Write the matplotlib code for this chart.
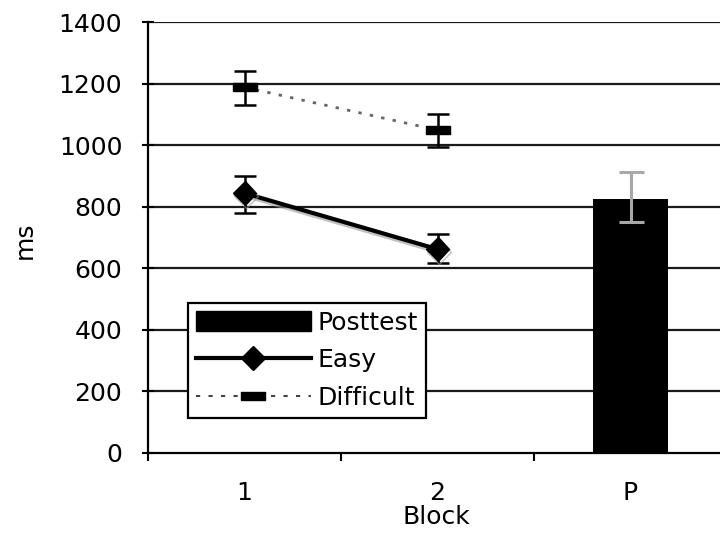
import matplotlib
matplotlib.use("Agg")
import matplotlib.pyplot as plt
import matplotlib.patheffects as pe
from matplotlib.lines import Line2D
from matplotlib.patches import Patch
import numpy as np

categories = ["1", "2", "P"]
easy = [844, 662]
easy_err_lo = [66, 45]
easy_err_hi = [56, 49]
difficult = [1188, 1049]
difficult_err_lo = [58, 54]
difficult_err_hi = [52, 51]
posttest = [825]
posttest_err_lo = [75]
posttest_err_hi = [87]
yticks = [0, 200, 400, 600, 800, 1000, 1200, 1400]

plt.rcParams['font.family'] = ['DejaVu Sans']
FS = 18
fig = plt.figure(figsize=(7.2, 5.37), dpi=100)
ax = fig.add_axes([148/720, 1-453/537, 579/720, (453-22)/537])

x = np.arange(len(categories))

# grid lines
for yv in yticks[1:]:
    ax.axhline(yv, color='#1a1a1a', lw=1.6, zorder=1)

# bar
ax.bar(x[2:], posttest, width=0.39, color='black', zorder=2, label='Posttest')
ax.errorbar(x[2:], posttest, yerr=[posttest_err_lo, posttest_err_hi], fmt='none',
            ecolor='#a8a8a8', elinewidth=2.2, capsize=9, capthick=2.2, zorder=3)

# Easy
ax.errorbar(x[:2], easy, yerr=[easy_err_lo, easy_err_hi], fmt='none', ecolor='black',
            elinewidth=1.8, capsize=8, capthick=1.8, zorder=4)
ax.plot(x[:2], easy, color='black', lw=3, marker='D', markersize=12, zorder=5,
        path_effects=[pe.SimpleLineShadow(offset=(1, -2), shadow_color='#999999', alpha=0.6), pe.Normal()])

# Difficult
rect = [(-1, -0.38), (1, -0.38), (1, 0.38), (-1, 0.38), (-1, -0.38)]
ax.errorbar(x[:2], difficult, yerr=[difficult_err_lo, difficult_err_hi], fmt='none', ecolor='black',
            elinewidth=1.8, capsize=8, capthick=1.8, zorder=4)
ax.plot(x[:2], difficult, color='#666666', lw=2, linestyle=(0, (1.2, 3)), zorder=5)
ax.plot(x[:2], difficult, linestyle='none', marker=rect, markersize=17, color='black', zorder=6)

# legend proxies
h_post = Patch(facecolor='black', edgecolor='black')
h_easy = Line2D([], [], color='black', lw=3, marker='D', markersize=12)
h_diff = Line2D([], [], color='#444444', lw=1.5, linestyle=(0, (2, 4)), marker=rect, markersize=17,
                markerfacecolor='black', markeredgecolor='black')

ax.set_xlim(-0.5, 2.5)
ax.set_ylim(0, 1400)
ax.set_yticks(yticks)
ax.set_xticks(x)
ax.set_xticklabels(categories)
ax.set_xticks([-0.5, 0.5, 1.5, 2.5], minor=True)
ax.tick_params(axis='x', which='major', length=0, pad=20, labelsize=FS)
ax.tick_params(axis='x', which='minor', length=6, width=1.5, direction='out')
ax.tick_params(axis='y', length=9, width=1.5, direction='inout', labelsize=FS, pad=14)
for s in ['top', 'right']:
    ax.spines[s].set_visible(False)
ax.spines['left'].set_linewidth(1.6)
ax.spines['bottom'].set_linewidth(1.6)

fig.text(25/720, 1-240/537, 'ms', rotation=90, ha='center', va='center', fontsize=FS)
fig.text(436/720, 1-524/537, 'Block', ha='center', va='baseline', fontsize=FS)

leg = ax.legend([h_post, h_easy, h_diff], ['Posttest', 'Easy', 'Difficult'],
                loc='upper left', bbox_to_anchor=((188-148)/579, (453-303)/431),
                fontsize=FS, handlelength=4.6, handleheight=0.85, numpoints=1,
                frameon=True, fancybox=False, borderpad=0.3, labelspacing=0.55,
                handletextpad=0.3, borderaxespad=0)
leg.get_frame().set_edgecolor('black')
leg.get_frame().set_linewidth(1.6)
leg.get_frame().set_alpha(1)
leg.set_zorder(10)

fig.savefig('out.png', dpi=100)
